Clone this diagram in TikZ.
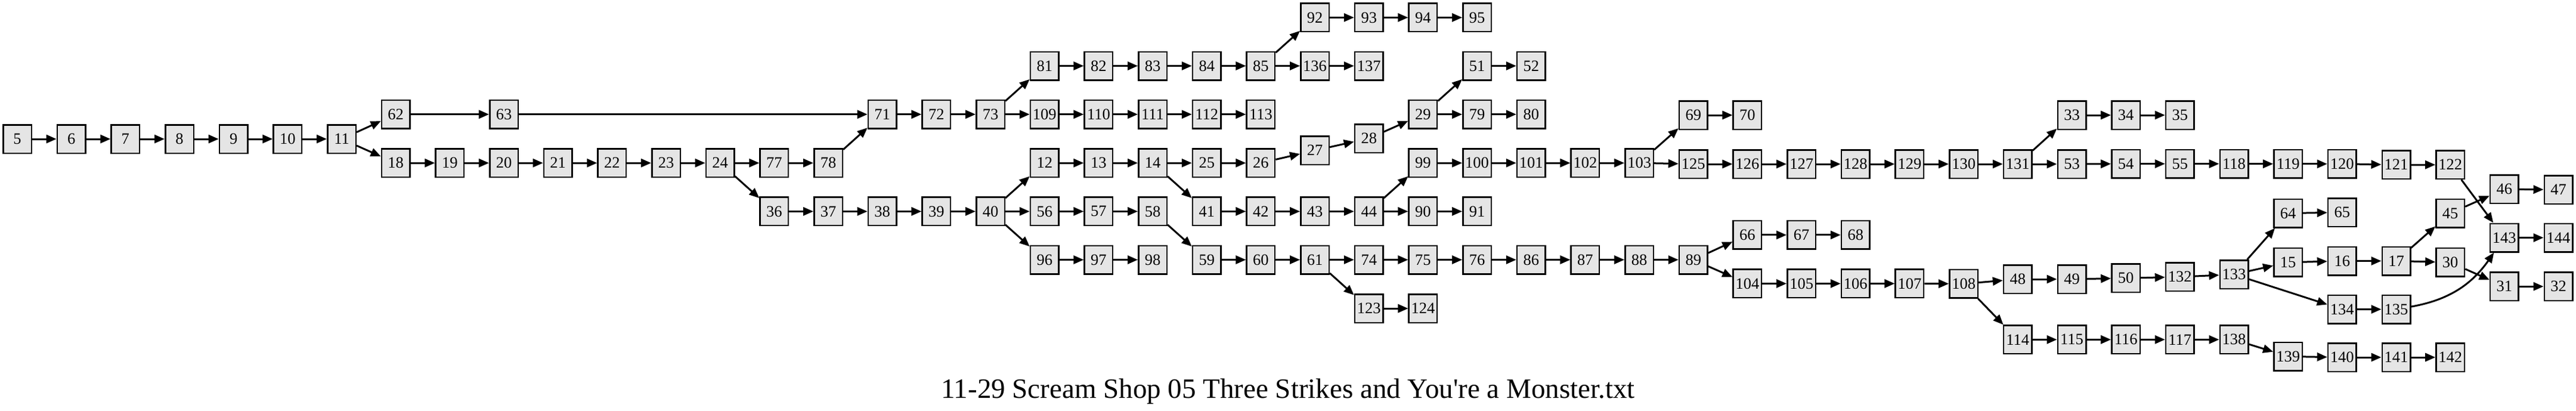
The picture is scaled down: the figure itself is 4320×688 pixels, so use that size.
\documentclass[tikz,border=0pt]{standalone}
\usepackage{fontspec}
\setmainfont{Liberation Serif}
\usetikzlibrary{arrows.meta}
\definecolor{boxgray}{gray}{0.9}
\tikzset{
  state/.style={draw, line width=2.5pt, fill=boxgray, minimum size=47.5pt, inner sep=0pt,
    font=\fontsize{26.5}{30}\selectfont},
  edge/.style={-{Triangle[length=17pt,width=14pt]}, line width=3pt}
}

\begin{document}
\begin{tikzpicture}[x=1pt, y=-1pt]
    \useasboundingbox (0,0) rectangle (4320,688);
    \begin{scope}
    % boxes: number / rank / y
    \foreach \n/\r/\y in {5/0/233, 6/1/233, 7/2/233, 8/3/233, 9/4/233, 10/5/233, 11/6/233,
        62/7/191.7, 18/7/273.2, 19/8/273.2, 63/9/191.7, 20/9/273.2, 21/10/273.2, 22/11/273.2,
        23/12/273.2, 24/13/273.2, 77/14/273.2, 36/14/354.4, 78/15/273.2, 37/15/354.4,
        71/16/191.7, 38/16/354.4, 72/17/191.7, 39/17/354.4, 73/18/191.7, 40/18/354.4,
        81/19/110.5, 109/19/191.7, 12/19/273.2, 56/19/354.4, 96/19/435.5,
        82/20/110.5, 110/20/191.7, 13/20/273.2, 57/20/354.4, 97/20/435.5,
        83/21/110.5, 111/21/191.7, 14/21/273.2, 58/21/354.4, 98/21/435.5,
        84/22/110.5, 112/22/191.7, 25/22/273.2, 41/22/354.4, 59/22/435.5,
        85/23/110.5, 113/23/191.7, 26/23/273.2, 42/23/354.4, 60/23/435.5,
        92/24/29.4, 136/24/110.5, 27/24/252.2, 43/24/354.4, 61/24/435.5,
        93/25/29.4, 137/25/110.5, 28/25/232, 44/25/354.4, 74/25/435.5, 123/25/517.1,
        94/26/29.4, 29/26/191.7, 99/26/273.2, 90/26/354.4, 75/26/435.5, 124/26/517.1,
        95/27/29.4, 51/27/110.5, 79/27/191.7, 100/27/273.2, 91/27/354.4, 76/27/435.5,
        52/28/110.5, 80/28/191.7, 101/28/273.2, 86/28/435.5,
        102/29/273.2, 87/29/435.5, 103/30/273.2, 88/30/435.5,
        69/31/193, 125/31/275, 89/31/435.5,
        70/32/193, 126/32/275, 66/32/393.9, 104/32/475.4,
        127/33/275, 67/33/393.9, 105/33/475.4,
        128/34/275, 68/34/393.9, 106/34/475.4,
        129/35/275, 107/35/475.4, 130/36/275, 108/36/475.8,
        131/37/275, 48/37/468, 114/37/569.3,
        33/38/193, 53/38/275, 49/38/468, 115/38/569.3,
        34/39/193, 54/39/274.6, 50/39/466.3, 116/39/569.3,
        35/40/193, 55/40/274.6, 132/40/464.2, 117/40/569.3,
        118/41/274.6, 133/41/460, 138/41/569.3,
        119/42/274.8, 64/42/357.5, 15/42/439.8, 139/42/597.5,
        120/43/274.8, 65/43/356, 16/43/437.5, 134/43/518.5, 140/43/599,
        121/44/276.2, 17/44/437.5, 135/44/518.5, 141/44/599,
        122/45/276.2, 45/45/357.5, 30/45/439.8, 142/45/599,
        46/46/317.2, 143/46/398.5, 31/46/480.2,
        47/47/318, 144/47/398.5, 32/47/480.2}
        \node[state] at ({29+\r*90.67},\y) (n\n) {\n};

    \foreach \a/\b in {5/6, 6/7, 7/8, 8/9, 9/10, 10/11, 11/62, 11/18, 62/63, 63/71,
        18/19, 19/20, 20/21, 21/22, 22/23, 23/24, 24/77, 24/36, 77/78, 78/71,
        36/37, 37/38, 38/39, 39/40, 71/72, 72/73, 73/81, 73/109,
        81/82, 82/83, 83/84, 84/85, 85/92, 85/136, 92/93, 93/94, 94/95, 136/137,
        109/110, 110/111, 111/112, 112/113, 40/12, 40/56, 40/96,
        12/13, 13/14, 14/25, 14/41, 25/26, 26/27, 27/28, 28/29, 29/51, 29/79,
        51/52, 79/80, 41/42, 42/43, 43/44, 44/99, 44/90, 90/91,
        99/100, 100/101, 101/102, 102/103, 103/69, 103/125, 69/70,
        125/126, 126/127, 127/128, 128/129, 129/130, 130/131, 131/33, 131/53,
        33/34, 34/35, 53/54, 54/55, 55/118, 118/119, 119/120, 120/121, 121/122,
        122/143, 143/144, 56/57, 57/58, 58/59, 59/60, 60/61, 61/74, 61/123, 123/124,
        74/75, 75/76, 76/86, 86/87, 87/88, 88/89, 89/66, 89/104, 66/67, 67/68,
        104/105, 105/106, 106/107, 107/108, 108/48, 108/114, 48/49, 49/50,
        50/132, 132/133, 133/64, 133/15, 133/134, 64/65, 15/16, 16/17, 17/45, 17/30,
        45/46, 46/47, 30/31, 31/32, 134/135, 114/115, 115/116, 116/117, 117/138,
        138/139, 139/140, 140/141, 141/142, 96/97, 97/98}
        \draw[edge] (n\a) -- (n\b);
    \draw[edge] (n135) to[out=10, in=235] (n143);

    \node[font=\fontsize{47}{50}\selectfont, anchor=base] at (2160,667) (title)
        {11-29 Scream Shop 05 Three Strikes and You\textquotesingle re a Monster.txt};
    \end{scope}
\end{tikzpicture}
\end{document}
